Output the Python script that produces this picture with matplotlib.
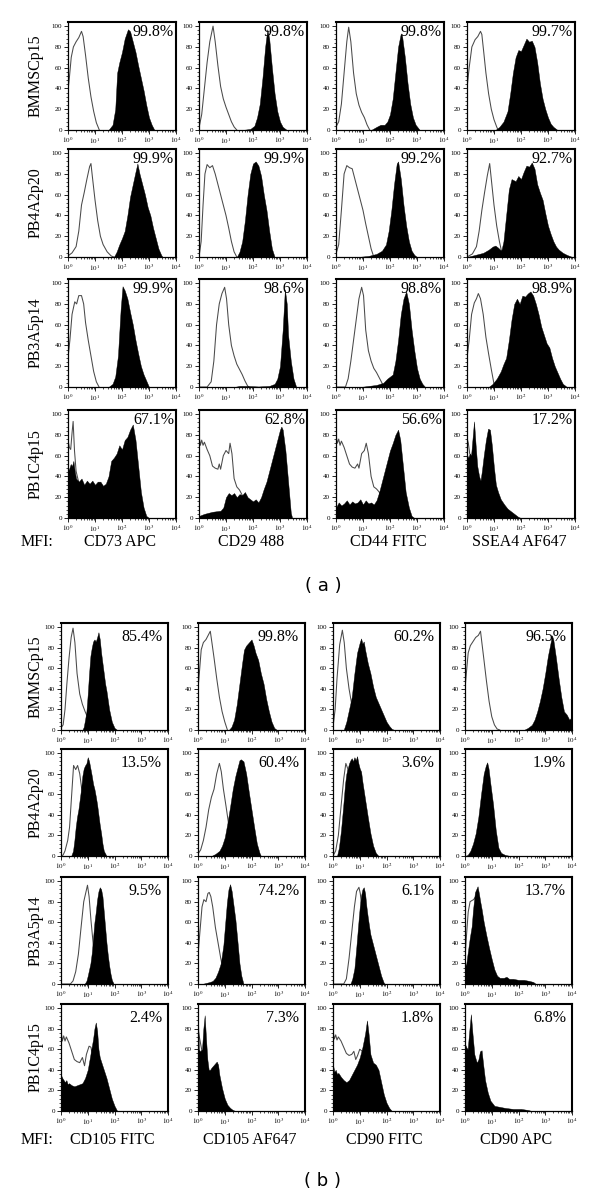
import matplotlib
matplotlib.use('Agg')
import matplotlib.pyplot as plt
import numpy as np
from matplotlib.ticker import FixedLocator, NullFormatter, LogLocator

plt.rcParams['font.family'] = ['Liberation Serif', 'DejaVu Serif']
plt.rcParams['mathtext.fontset'] = 'stix'

# ---------------- text content ----------------
row_labels = ["BMMSCp15", "PB4A2p20", "PB3A5p14", "PB1C4p15"]
markers_a = ["CD73 APC", "CD29 488", "CD44 FITC", "SSEA4 AF647"]
markers_b = ["CD105 FITC", "CD105 AF647", "CD90 FITC", "CD90 APC"]
pct_a = [["99.8%", "99.8%", "99.8%", "99.7%"],
         ["99.9%", "99.9%", "99.2%", "92.7%"],
         ["99.9%", "98.6%", "98.8%", "98.9%"],
         ["67.1%", "62.8%", "56.6%", "17.2%"]]
pct_b = [["85.4%", "99.8%", "60.2%", "96.5%"],
         ["13.5%", "60.4%", "3.6%", "1.9%"],
         ["9.5%", "74.2%", "6.1%", "13.7%"],
         ["2.4%", "7.3%", "1.8%", "6.8%"]]
x_decades = [0, 1, 2, 3, 4]
y_ticks = [0, 20, 40, 60, 80, 100]

# ---------------- histogram data: (log10 intensity, % of max) ----------------
# panel (a), row 1 BMMSCp15
a11_iso = [(0,38),(0.05,50),(0.12,70),(0.2,80),(0.3,85),(0.4,89),(0.5,95),(0.56,90),(0.65,72),(0.75,50),(0.85,32),(0.95,18),(1.05,7),(1.16,0)]
a11_pos = [(1.5,0),(1.65,5),(1.75,20),(1.82,55),(1.9,65),(2.0,75),(2.1,88),(2.22,97),(2.3,95),(2.4,85),(2.5,75),(2.6,62),(2.7,50),(2.8,38),(2.9,24),(3.0,12),(3.1,5),(3.2,0)]
a12_iso = [(0,2),(0.1,15),(0.2,40),(0.3,65),(0.4,85),(0.52,100),(0.6,85),(0.7,62),(0.8,42),(0.9,30),(1.0,22),(1.1,15),(1.2,8),(1.3,3),(1.4,0)]
a12_pos = [(1.6,0),(1.9,1),(2.05,4),(2.15,12),(2.25,25),(2.35,50),(2.45,80),(2.53,97),(2.6,88),(2.7,60),(2.8,35),(2.9,18),(3.0,8),(3.1,3),(3.25,0)]
a13_iso = [(0,3),(0.1,8),(0.2,25),(0.3,55),(0.4,85),(0.47,99),(0.55,85),(0.65,55),(0.75,35),(0.85,24),(0.95,17),(1.05,12),(1.15,5),(1.25,0)]
a13_pos = [(1.3,0),(1.5,3),(1.65,5),(1.8,5),(1.9,8),(2.0,15),(2.1,30),(2.2,55),(2.3,80),(2.4,93),(2.45,90),(2.55,70),(2.65,45),(2.75,25),(2.85,12),(2.95,5),(3.1,0)]
a14_iso = [(0,40),(0.08,60),(0.18,80),(0.3,87),(0.4,90),(0.5,95),(0.55,92),(0.62,75),(0.7,55),(0.8,35),(0.9,20),(1.0,10),(1.1,3),(1.15,0)]
a14_pos = [(1.05,0),(1.2,3),(1.35,8),(1.5,18),(1.6,35),(1.7,55),(1.8,70),(1.9,77),(2.0,76),(2.1,82),(2.2,88),(2.3,85),(2.4,86),(2.5,80),(2.6,65),(2.7,45),(2.8,30),(2.9,20),(3.0,12),(3.1,6),(3.2,3),(3.35,0)]
# panel (a), row 2 PB4A2p20
a21_iso = [(0,1),(0.15,4),(0.3,10),(0.4,25),(0.5,50),(0.6,62),(0.7,75),(0.8,87),(0.85,90),(0.9,78),(1.0,55),(1.1,35),(1.2,20),(1.3,12),(1.45,5),(1.6,1),(1.7,0)]
a21_pos = [(1.7,0),(1.8,5),(1.9,12),(2.0,18),(2.1,25),(2.2,40),(2.3,58),(2.4,70),(2.5,82),(2.57,90),(2.65,80),(2.75,70),(2.85,60),(2.95,48),(3.05,40),(3.15,28),(3.25,18),(3.35,8),(3.45,2),(3.5,0)]
a22_iso = [(0,0),(0.08,15),(0.15,50),(0.22,80),(0.3,89),(0.4,86),(0.5,88),(0.6,80),(0.7,70),(0.8,60),(0.9,50),(1.0,40),(1.1,28),(1.2,15),(1.3,5),(1.4,0)]
a22_pos = [(1.4,0),(1.5,5),(1.6,15),(1.7,35),(1.8,60),(1.9,80),(2.0,90),(2.1,92),(2.2,88),(2.3,78),(2.4,60),(2.5,45),(2.6,25),(2.7,8),(2.8,0)]
a23_iso = [(0,3),(0.1,12),(0.2,45),(0.3,80),(0.4,88),(0.5,86),(0.6,85),(0.7,75),(0.8,65),(0.9,55),(1.0,45),(1.1,32),(1.2,20),(1.3,8),(1.4,0)]
a23_pos = [(0.8,0),(1.2,1),(1.5,3),(1.7,6),(1.85,12),(1.95,25),(2.05,45),(2.15,70),(2.25,90),(2.3,92),(2.4,75),(2.5,50),(2.6,30),(2.7,15),(2.8,6),(2.9,2),(3.0,0)]
a24_iso = [(0,0),(0.2,3),(0.35,10),(0.45,25),(0.55,45),(0.65,62),(0.75,78),(0.84,90),(0.9,75),(1.0,50),(1.1,30),(1.2,15),(1.3,3),(1.35,0)]
a24_pos = [(0,0),(0.3,2),(0.6,4),(0.8,7),(0.95,10),(1.05,11),(1.15,9),(1.27,6),(1.35,15),(1.45,40),(1.55,65),(1.65,75),(1.8,73),(1.9,78),(2.0,75),(2.1,82),(2.2,88),(2.3,87),(2.4,91),(2.5,85),(2.6,70),(2.7,62),(2.8,55),(2.9,42),(3.0,30),(3.1,22),(3.2,15),(3.3,10),(3.4,7),(3.55,4),(3.7,2),(3.9,0)]
# panel (a), row 3 PB3A5p14
a31_iso = [(0,28),(0.07,45),(0.15,70),(0.25,82),(0.32,80),(0.4,88),(0.5,88),(0.58,80),(0.65,62),(0.75,45),(0.85,30),(0.95,15),(1.05,5),(1.15,0)]
a31_pos = [(1.5,0),(1.65,3),(1.75,10),(1.85,30),(1.95,75),(2.02,97),(2.1,93),(2.2,85),(2.3,72),(2.4,60),(2.5,45),(2.6,32),(2.7,20),(2.8,12),(2.9,6),(3.0,0)]
a32_iso = [(0,0),(0.3,0),(0.45,5),(0.55,25),(0.65,60),(0.75,80),(0.85,90),(0.95,96),(1.02,85),(1.1,60),(1.2,40),(1.3,30),(1.4,22),(1.5,17),(1.6,12),(1.7,6),(1.8,1),(1.85,0)]
a32_pos = [(1.3,0),(1.5,1),(1.8,1),(2.2,0.5),(2.6,1),(2.8,3),(2.9,8),(3.0,20),(3.1,55),(3.18,94),(3.25,80),(3.3,50),(3.4,25),(3.5,8),(3.6,0)]
a33_iso = [(0,0),(0.35,0),(0.45,8),(0.55,25),(0.65,45),(0.75,65),(0.85,85),(0.95,96),(1.02,88),(1.1,55),(1.2,35),(1.3,25),(1.4,18),(1.5,14),(1.6,9),(1.7,4),(1.75,0)]
a33_pos = [(0.9,0),(1.2,1),(1.5,2),(1.75,4),(1.9,8),(2.0,10),(2.1,12),(2.2,25),(2.3,45),(2.4,70),(2.5,85),(2.6,92),(2.7,80),(2.8,55),(2.9,35),(3.0,18),(3.1,8),(3.2,3),(3.3,0)]
a34_iso = [(0,28),(0.08,45),(0.17,70),(0.27,81),(0.35,85),(0.42,90),(0.5,85),(0.6,70),(0.7,48),(0.8,32),(0.9,17),(1.0,3),(1.05,0)]
a34_pos = [(0.8,0),(0.95,3),(1.1,8),(1.25,15),(1.35,22),(1.45,28),(1.55,45),(1.65,65),(1.75,80),(1.85,85),(1.95,80),(2.05,88),(2.15,87),(2.25,90),(2.35,92),(2.45,88),(2.55,80),(2.65,70),(2.75,58),(2.85,50),(2.95,42),(3.05,38),(3.15,28),(3.25,20),(3.35,14),(3.45,8),(3.55,3),(3.7,0)]
# panel (a), row 4 PB1C4p15
a41_iso = [(0,75),(0.05,68),(0.1,66),(0.15,82),(0.19,93),(0.24,65),(0.3,45),(0.4,34),(0.6,28),(0.8,20),(1.0,10),(1.2,3),(1.4,0)]
a41_pos = [(0,45),(0.05,48),(0.1,52),(0.15,50),(0.2,55),(0.25,45),(0.3,38),(0.4,35),(0.5,38),(0.6,32),(0.7,36),(0.8,33),(0.9,36),(1.0,32),(1.1,35),(1.2,35),(1.3,31),(1.4,33),(1.5,40),(1.6,55),(1.7,58),(1.8,62),(1.9,70),(2.0,66),(2.1,75),(2.2,78),(2.3,85),(2.4,90),(2.5,75),(2.6,50),(2.7,25),(2.8,10),(2.9,2),(3.0,0)]
a42_iso = [(0,80),(0.05,70),(0.1,75),(0.15,70),(0.2,73),(0.3,66),(0.4,60),(0.5,50),(0.6,48),(0.7,47),(0.75,52),(0.8,47),(0.9,60),(1.0,65),(1.1,62),(1.15,72),(1.22,62),(1.3,38),(1.4,30),(1.5,27),(1.6,22),(1.7,15),(1.9,5),(2.1,0)]
a42_pos = [(0,2),(0.2,4),(0.5,6),(0.8,7),(0.9,10),(1.0,20),(1.1,24),(1.2,22),(1.3,24),(1.4,20),(1.5,23),(1.6,22),(1.7,25),(1.8,20),(1.9,18),(2.0,16),(2.1,18),(2.2,15),(2.3,20),(2.4,28),(2.5,35),(2.6,45),(2.7,55),(2.8,65),(2.9,75),(3.0,85),(3.05,88),(3.1,85),(3.2,65),(3.3,35),(3.4,5),(3.45,0)]
a43_iso = [(0,80),(0.05,72),(0.1,76),(0.15,70),(0.2,74),(0.3,68),(0.4,60),(0.5,52),(0.6,49),(0.7,48),(0.8,52),(0.85,48),(0.95,62),(1.05,65),(1.12,72),(1.2,62),(1.3,40),(1.4,30),(1.5,28),(1.6,25),(1.7,18),(1.85,8),(2.0,0)]
a43_pos = [(0,10),(0.1,15),(0.2,12),(0.3,14),(0.4,17),(0.5,13),(0.6,16),(0.7,14),(0.8,15),(0.9,18),(1.0,13),(1.1,17),(1.2,14),(1.3,15),(1.4,13),(1.5,17),(1.6,25),(1.7,35),(1.8,45),(1.9,55),(2.0,65),(2.1,72),(2.2,80),(2.3,85),(2.38,75),(2.48,50),(2.58,25),(2.7,10),(2.8,2),(2.9,0)]
a44_iso = [(0,77),(0.05,72),(0.1,62),(0.2,58),(0.3,50),(0.5,34),(0.7,30),(0.9,20),(1.1,10),(1.3,3),(1.5,0)]
a44_pos = [(0,61),(0.05,58),(0.1,62),(0.15,60),(0.2,75),(0.26,93),(0.32,70),(0.38,50),(0.45,40),(0.5,36),(0.55,45),(0.62,60),(0.7,75),(0.78,86),(0.85,85),(0.92,70),(1.0,48),(1.07,32),(1.15,25),(1.25,18),(1.38,13),(1.5,9),(1.65,6),(1.8,3),(1.9,1),(2.0,0)]
# panel (b), row 1 BMMSCp15
b11_iso = [(0,2),(0.08,5),(0.15,20),(0.22,45),(0.3,70),(0.38,90),(0.45,99),(0.52,85),(0.6,55),(0.7,35),(0.8,25),(0.9,18),(1.0,12),(1.1,6),(1.25,0)]
b11_pos = [(0.8,0),(0.85,3),(0.9,10),(0.95,18),(1.0,35),(1.05,55),(1.1,72),(1.15,80),(1.2,86),(1.25,88),(1.3,86),(1.35,90),(1.4,95),(1.45,88),(1.5,75),(1.55,65),(1.6,55),(1.65,45),(1.7,38),(1.8,20),(1.9,8),(2.0,2),(2.1,0)]
b12_iso = [(0,40),(0.05,55),(0.12,78),(0.2,85),(0.3,88),(0.4,93),(0.46,96),(0.52,85),(0.6,70),(0.7,50),(0.8,32),(0.9,18),(1.0,8),(1.1,0)]
b12_pos = [(1.15,0),(1.25,3),(1.35,10),(1.45,25),(1.55,45),(1.65,65),(1.72,78),(1.8,82),(1.9,85),(2.0,88),(2.08,82),(2.15,75),(2.25,68),(2.35,55),(2.45,45),(2.55,30),(2.65,18),(2.75,8),(2.85,2),(2.95,0)]
b13_iso = [(0,3),(0.08,20),(0.15,50),(0.25,83),(0.35,97),(0.42,85),(0.5,60),(0.6,40),(0.7,25),(0.8,15),(0.9,8),(1.0,3),(1.1,0)]
b13_pos = [(0.4,0),(0.5,8),(0.6,20),(0.7,32),(0.8,55),(0.9,75),(1.0,85),(1.05,89),(1.1,84),(1.15,86),(1.2,78),(1.3,65),(1.4,55),(1.5,42),(1.6,32),(1.7,26),(1.8,20),(1.9,14),(2.0,8),(2.1,4),(2.2,1),(2.3,0)]
b14_iso = [(0,40),(0.05,55),(0.12,75),(0.2,82),(0.3,86),(0.4,90),(0.5,92),(0.58,96),(0.63,85),(0.7,70),(0.8,48),(0.9,28),(1.0,13),(1.1,5),(1.2,1),(1.3,0)]
b14_pos = [(2.2,0),(2.35,2),(2.5,5),(2.6,10),(2.7,18),(2.8,28),(2.9,40),(3.0,55),(3.1,72),(3.2,85),(3.25,92),(3.3,88),(3.4,70),(3.5,50),(3.6,32),(3.7,18),(3.8,15),(3.9,10),(3.97,12),(4.0,25)]
# panel (b), row 2 PB4A2p20
b21_iso = [(0,0),(0.08,1),(0.15,5),(0.25,15),(0.32,28),(0.4,60),(0.47,88),(0.55,84),(0.62,88),(0.7,80),(0.8,60),(0.9,40),(1.0,25),(1.1,12),(1.2,4),(1.3,0)]
b21_pos = [(0.38,0),(0.45,5),(0.5,15),(0.55,28),(0.6,38),(0.65,45),(0.7,55),(0.75,65),(0.8,78),(0.85,85),(0.9,88),(0.95,90),(1.0,96),(1.05,92),(1.1,85),(1.15,78),(1.2,70),(1.25,65),(1.3,58),(1.35,50),(1.4,40),(1.45,30),(1.5,22),(1.55,12),(1.6,5),(1.7,0)]
b22_iso = [(0,2),(0.1,6),(0.2,15),(0.3,28),(0.4,45),(0.5,57),(0.6,65),(0.7,80),(0.8,90),(0.87,82),(0.95,65),(1.05,48),(1.15,30),(1.25,15),(1.35,5),(1.45,0)]
b22_pos = [(0.5,0),(0.65,2),(0.8,5),(0.9,10),(1.0,18),(1.1,32),(1.2,48),(1.3,65),(1.4,78),(1.5,88),(1.55,93),(1.6,94),(1.7,92),(1.8,80),(1.9,62),(2.0,45),(2.1,28),(2.2,12),(2.3,3),(2.35,0)]
b23_iso = [(0,0),(0.1,5),(0.2,20),(0.3,48),(0.4,75),(0.48,90),(0.55,85),(0.65,70),(0.75,45),(0.85,25),(0.95,10),(1.05,3),(1.15,0)]
b23_pos = [(0.15,0),(0.22,8),(0.3,25),(0.38,48),(0.45,70),(0.5,80),(0.55,85),(0.6,90),(0.65,93),(0.7,95),(0.75,92),(0.8,96),(0.85,93),(0.9,97),(0.95,90),(1.0,85),(1.05,82),(1.1,72),(1.2,55),(1.3,38),(1.4,22),(1.5,10),(1.6,3),(1.7,0)]
b24_iso = [(0.25,0),(0.4,8),(0.6,38),(0.75,65),(0.85,70),(0.95,55),(1.05,30),(1.15,10),(1.25,0)]
b24_pos = [(0,0),(0.1,1),(0.2,5),(0.3,12),(0.4,22),(0.5,38),(0.6,60),(0.7,80),(0.78,88),(0.83,91),(0.88,85),(0.95,70),(1.05,50),(1.15,25),(1.25,8),(1.35,3),(1.5,1),(1.7,0)]
# panel (b), row 3 PB3A5p14
b31_iso = [(0,0),(0.35,0),(0.45,3),(0.55,12),(0.65,29),(0.75,55),(0.85,80),(0.92,88),(0.99,96),(1.05,85),(1.12,62),(1.2,40),(1.3,20),(1.4,8),(1.5,0)]
b31_pos = [(0.88,0),(0.95,3),(1.0,8),(1.05,14),(1.1,20),(1.15,30),(1.2,45),(1.25,60),(1.3,70),(1.35,82),(1.4,90),(1.45,94),(1.5,92),(1.55,85),(1.6,70),(1.65,55),(1.7,40),(1.75,28),(1.8,18),(1.85,10),(1.9,4),(1.97,0)]
b32_iso = [(0,28),(0.07,50),(0.15,75),(0.22,82),(0.3,80),(0.37,88),(0.42,89),(0.48,85),(0.55,75),(0.65,55),(0.75,40),(0.85,25),(0.95,12),(1.05,5),(1.15,0)]
b32_pos = [(0.15,0),(0.3,1),(0.45,2),(0.55,3),(0.65,6),(0.75,12),(0.85,20),(0.95,38),(1.02,60),(1.08,79),(1.14,92),(1.2,97),(1.26,90),(1.32,78),(1.4,62),(1.48,40),(1.55,20),(1.62,8),(1.7,0)]
b33_iso = [(0,0),(0.4,0),(0.5,5),(0.6,25),(0.7,50),(0.8,75),(0.88,90),(0.97,94),(1.02,88),(1.1,70),(1.2,45),(1.3,25),(1.4,10),(1.5,2),(1.6,0)]
b33_pos = [(0.65,0),(0.72,5),(0.8,15),(0.87,35),(0.95,60),(1.0,75),(1.05,86),(1.1,92),(1.15,94),(1.2,88),(1.25,75),(1.3,65),(1.35,56),(1.4,48),(1.5,38),(1.6,28),(1.7,18),(1.8,8),(1.9,1),(1.95,0)]
b34_iso = [(0,25),(0.05,45),(0.12,70),(0.19,80),(0.25,81),(0.32,82),(0.4,85),(0.5,80),(0.6,60),(0.7,40),(0.8,25),(0.9,15),(1.0,8),(1.1,3),(1.2,0)]
b34_pos = [(0,17),(0.05,20),(0.1,30),(0.18,45),(0.25,56),(0.3,72),(0.37,89),(0.42,92),(0.47,95),(0.52,88),(0.57,80),(0.62,73),(0.7,60),(0.8,47),(0.9,35),(1.0,24),(1.1,14),(1.2,8),(1.3,6),(1.45,6),(1.55,7),(1.65,5),(1.8,5),(2.0,4),(2.2,4),(2.4,3),(2.55,2),(2.65,0)]
# panel (b), row 4 PB1C4p15
b41_iso = [(0,78),(0.05,68),(0.1,73),(0.15,68),(0.2,72),(0.3,66),(0.4,58),(0.5,50),(0.6,48),(0.7,47),(0.8,52),(0.88,44),(0.95,55),(1.05,63),(1.12,62),(1.2,50),(1.3,35),(1.4,20),(1.6,5),(1.8,0)]
b41_pos = [(0,35),(0.05,32),(0.1,30),(0.15,28),(0.2,30),(0.25,26),(0.3,27),(0.4,25),(0.5,24),(0.6,25),(0.7,26),(0.8,27),(0.9,32),(1.0,40),(1.1,55),(1.2,70),(1.25,80),(1.3,86),(1.35,78),(1.4,60),(1.45,52),(1.5,48),(1.6,40),(1.7,32),(1.8,22),(1.9,12),(2.0,5),(2.1,0)]
b42_iso = [(0,80),(0.05,72),(0.1,65),(0.15,58),(0.3,40),(0.5,30),(0.7,20),(0.9,10),(1.1,3),(1.3,0)]
b42_pos = [(0,98),(0.03,60),(0.08,58),(0.15,60),(0.2,80),(0.25,93),(0.3,70),(0.35,50),(0.4,40),(0.45,40),(0.5,42),(0.6,45),(0.7,48),(0.75,45),(0.8,35),(0.9,22),(1.0,12),(1.1,6),(1.2,3),(1.3,1),(1.4,0)]
b43_iso = [(0,78),(0.05,70),(0.1,74),(0.15,69),(0.2,72),(0.3,68),(0.4,62),(0.5,56),(0.6,54),(0.7,55),(0.78,58),(0.85,50),(0.92,54),(1.0,60),(1.1,58),(1.2,45),(1.35,30),(1.5,15),(1.7,5),(1.9,0)]
b43_pos = [(0,45),(0.05,38),(0.1,40),(0.15,36),(0.2,37),(0.3,33),(0.4,30),(0.5,28),(0.6,30),(0.7,35),(0.8,40),(0.9,45),(1.0,52),(1.1,62),(1.2,75),(1.27,88),(1.33,75),(1.4,55),(1.5,47),(1.6,45),(1.7,40),(1.8,28),(1.9,16),(2.0,8),(2.1,3),(2.2,0)]
b44_iso = [(0,62),(0.05,60),(0.1,58),(0.2,55),(0.4,40),(0.6,30),(0.8,15),(1.0,5),(1.2,0)]
b44_pos = [(0,65),(0.05,62),(0.1,60),(0.15,75),(0.22,94),(0.28,75),(0.35,55),(0.44,47),(0.5,50),(0.56,58),(0.62,59),(0.68,45),(0.75,30),(0.85,18),(0.95,10),(1.1,5),(1.3,4),(1.5,3),(1.8,2),(2.1,2),(2.35,1),(2.5,0),(3.95,0),(3.98,8),(4.0,15)]

grid_a = [[(a11_iso, a11_pos), (a12_iso, a12_pos), (a13_iso, a13_pos), (a14_iso, a14_pos)],
          [(a21_iso, a21_pos), (a22_iso, a22_pos), (a23_iso, a23_pos), (a24_iso, a24_pos)],
          [(a31_iso, a31_pos), (a32_iso, a32_pos), (a33_iso, a33_pos), (a34_iso, a34_pos)],
          [(a41_iso, a41_pos), (a42_iso, a42_pos), (a43_iso, a43_pos), (a44_iso, a44_pos)]]
grid_b = [[(b11_iso, b11_pos), (b12_iso, b12_pos), (b13_iso, b13_pos), (b14_iso, b14_pos)],
          [(b21_iso, b21_pos), (b22_iso, b22_pos), (b23_iso, b23_pos), (b24_iso, b24_pos)],
          [(b31_iso, b31_pos), (b32_iso, b32_pos), (b33_iso, b33_pos), (b34_iso, b34_pos)],
          [(b41_iso, b41_pos), (b42_iso, b42_pos), (b43_iso, b43_pos), (b44_iso, b44_pos)]]

# ---------------- layout (pixels) ----------------
W, H = 600, 1199
fig = plt.figure(figsize=(W / 100, H / 100), dpi=100)

layout_a = dict(lefts=[68, 199, 336, 467], tops=[22, 149, 279, 410], w=108, h=108,
                pct_dx=2, pct_dy=2, mfi_y=542, label_y=586, label="( a )")
layout_b = dict(lefts=[61, 198, 333, 465], tops=[623, 749, 877, 1004], w=107, h=107,
                pct_dx=6, pct_dy=6, mfi_y=1140, label_y=1181, label="( b )")


def style_axis(ax):
    ax.set_xscale('log')
    ax.set_xlim(10 ** x_decades[0], 10 ** x_decades[-1])
    ax.set_ylim(0, 104)
    ax.xaxis.set_major_locator(FixedLocator([10 ** d for d in x_decades]))
    ax.set_xticklabels([r"$10^{%d}$" % d for d in x_decades])
    ax.xaxis.set_minor_locator(LogLocator(base=10, subs=np.arange(2, 10), numticks=20))
    ax.xaxis.set_minor_formatter(NullFormatter())
    ax.yaxis.set_major_locator(FixedLocator(y_ticks))
    ax.set_yticklabels([str(t) for t in y_ticks])
    ax.yaxis.set_minor_locator(FixedLocator(np.arange(0, 101, 4)))
    ax.tick_params(which='major', direction='out', length=3, width=0.6, labelsize=5, pad=1.2)
    ax.tick_params(which='minor', direction='out', length=1.6, width=0.5)
    for s in ['left', 'bottom']:
        ax.spines[s].set_linewidth(0.9)
    for s in ['top', 'right']:
        ax.spines[s].set_linewidth(1.5)


def draw_panel(grid, pct, markers, L):
    for r in range(4):
        for c in range(4):
            left, top = L['lefts'][c], L['tops'][r]
            ax = fig.add_axes([left / W, 1 - (top + L['h']) / H, L['w'] / W, L['h'] / H])
            style_axis(ax)
            iso, pos = grid[r][c]
            ix = np.array([p[0] for p in iso]); iy = np.array([p[1] for p in iso])
            sx = np.array([p[0] for p in pos]); sy = np.array([p[1] for p in pos])
            ax.plot(10 ** ix, iy, color='#4a4a4a', lw=0.75, zorder=2)
            ax.fill_between(10 ** sx, sy, 0, color='black', lw=0.3, edgecolor='black', zorder=3)
            ax.text(1 - L['pct_dx'] / L['w'], 1 - L['pct_dy'] / L['h'], pct[r][c],
                    transform=ax.transAxes, ha='right', va='top', fontsize=11.5, zorder=5)
        # row label
        yc = L['tops'][r] + L['h'] / 2
        fig.text(36 / W, 1 - yc / H, row_labels[r], rotation=90, ha='center', va='center', fontsize=11.5)
    fig.text(21 / W, 1 - L['mfi_y'] / H, "MFI:", ha='left', va='center', fontsize=11.5)
    for c in range(4):
        xc = L['lefts'][c] + L['w'] / 2 - 2
        fig.text(xc / W, 1 - L['mfi_y'] / H, markers[c], ha='center', va='center', fontsize=11.5)
    fig.text(323 / W, 1 - L['label_y'] / H, L['label'], ha='center', va='center',
             fontsize=13, family='DejaVu Sans')


draw_panel(grid_a, pct_a, markers_a, layout_a)
draw_panel(grid_b, pct_b, markers_b, layout_b)

fig.savefig('out.png', dpi=100)
